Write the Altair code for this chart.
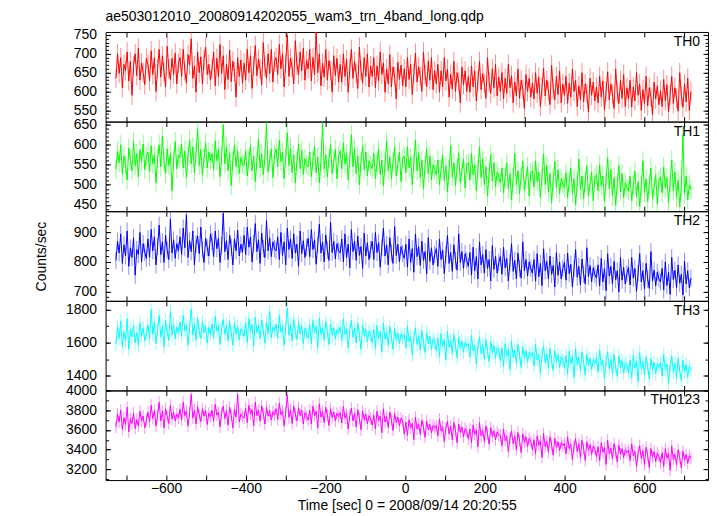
import altair as alt
import pandas as pd

title_text = "ae503012010_20080914202055_wam3_trn_4band_long.qdp"
x_title = "Time [sec] 0 = 2008/09/14 20:20:55"
y_title = "Counts/sec"
band_names = ["TH0", "TH1", "TH2", "TH3", "TH0123"]
band_colors = ["#ff0000", "#00ff00", "#0000ff", "#00ffff", "#ff00ff"]
band_errors = [26, 24, 29, 41, 61]
y_domains = [[520, 758], [434, 658], [668, 972], [1310, 1854], [3092, 4000]]
y_ticks = [[550, 600, 650, 700, 750], [450, 500, 550, 600, 650], [700, 800, 900],
           [1400, 1600, 1800], [3200, 3400, 3600, 3800, 4000]]
y_minor_steps = [10, 10, 20, 100, 100]
x_domain = [-752, 760]
x_ticks = [-700, -600, -500, -400, -300, -200, -100, 0, 100, 200, 300, 400, 500, 600, 700]
t_start = -726
t_step = 4.02

th0 = [635, 700, 648, 690, 610, 672, 655, 705, 628, 680, 590, 668, 700, 642, 715, 630, 676, 650, 618, 688,
       672, 628, 708, 645, 690, 600, 660, 712, 638, 695, 652, 612, 720, 660, 632, 688, 645, 702, 620, 675,
       690, 640, 712, 655, 622, 698, 670, 740, 635, 668, 598, 705, 650, 692, 620, 684, 718, 645, 672, 630,
       660, 705, 615, 688, 640, 725, 648, 695, 605, 672, 632, 710, 626, 680, 652, 585, 690, 640, 684, 622,
       675, 630, 712, 650, 695, 608, 668, 722, 642, 686, 660, 618, 730, 665, 635, 700, 648, 712, 625, 680,
       690, 645, 725, 660, 700, 612, 675, 750, 640, 688, 665, 620, 735, 670, 645, 705, 655, 715, 630, 682,
       660, 712, 628, 690, 645, 760, 650, 700, 615, 675, 638, 712, 630, 682, 655, 598, 695, 642, 688, 625,
       672, 625, 700, 640, 685, 598, 660, 712, 635, 680, 648, 608, 718, 655, 622, 690, 640, 700, 612, 668,
       640, 690, 610, 668, 628, 705, 645, 676, 598, 660, 620, 698, 612, 665, 640, 580, 678, 632, 670, 615,
       660, 612, 690, 632, 672, 592, 648, 702, 625, 665, 640, 600, 705, 645, 612, 680, 630, 690, 605, 655,
       620, 672, 598, 655, 612, 690, 628, 660, 585, 645, 606, 680, 600, 650, 625, 570, 665, 618, 655, 600,
       640, 598, 668, 612, 655, 575, 628, 680, 605, 648, 620, 582, 690, 625, 595, 660, 610, 672, 588, 638,
       600, 650, 580, 635, 595, 672, 610, 642, 570, 625, 588, 660, 582, 630, 606, 555, 645, 600, 635, 585,
       622, 580, 650, 595, 638, 560, 610, 662, 588, 630, 602, 565, 670, 607, 578, 640, 592, 655, 570, 620,
       590, 640, 568, 622, 585, 660, 600, 630, 560, 615, 578, 650, 572, 620, 596, 545, 635, 590, 625, 575,
       612, 570, 640, 585, 628, 552, 600, 652, 578, 620, 592, 555, 660, 597, 568, 630, 582, 645, 560, 610,
       580, 630, 558, 612, 575, 650, 590, 620, 550, 605, 568, 640, 562, 610, 586, 538, 625, 580, 615, 565,
       602, 560, 632, 575, 618, 545, 590, 640, 568, 610, 582, 548, 650, 588, 558, 620, 572, 635, 550, 600]

th1 = [540, 585, 555, 600, 528, 572, 550, 512, 592, 562, 535, 608, 548, 578, 520, 588, 558, 602, 538, 570,
       582, 532, 598, 552, 575, 505, 565, 600, 545, 622, 558, 528, 590, 548, 578, 485, 562, 608, 540, 575,
       568, 602, 542, 585, 518, 572, 612, 552, 595, 530, 578, 640, 548, 588, 525, 565, 605, 542, 582, 560,
       578, 538, 610, 560, 588, 520, 572, 650, 552, 595, 535, 580, 498, 562, 600, 545, 585, 528, 568, 552,
       548, 585, 522, 565, 598, 535, 572, 508, 560, 615, 542, 578, 525, 568, 655, 532, 560, 590, 518, 575,
       590, 545, 612, 558, 582, 515, 568, 630, 548, 592, 530, 575, 505, 560, 602, 540, 586, 526, 565, 550,
       545, 582, 520, 562, 596, 530, 570, 505, 558, 655, 540, 575, 520, 565, 600, 528, 558, 588, 515, 572,
       585, 540, 605, 552, 578, 512, 565, 625, 545, 590, 528, 572, 500, 558, 598, 538, 582, 522, 560, 548,
       540, 578, 515, 556, 590, 525, 562, 498, 552, 610, 535, 570, 515, 558, 595, 522, 552, 582, 508, 565,
       572, 530, 595, 542, 568, 500, 555, 612, 535, 580, 518, 562, 490, 548, 590, 528, 572, 512, 550, 538,
       525, 562, 500, 540, 575, 510, 548, 482, 538, 598, 520, 555, 498, 542, 580, 505, 535, 565, 492, 550,
       555, 512, 578, 525, 550, 485, 538, 595, 518, 565, 500, 545, 472, 530, 575, 510, 555, 495, 532, 520,
       505, 542, 480, 520, 555, 490, 528, 462, 518, 578, 500, 535, 478, 522, 560, 485, 515, 545, 472, 530,
       535, 495, 560, 508, 532, 468, 520, 578, 500, 548, 482, 528, 455, 512, 558, 492, 538, 478, 515, 502,
       492, 530, 468, 508, 542, 478, 515, 450, 505, 565, 488, 522, 465, 510, 548, 472, 502, 532, 460, 518,
       525, 485, 550, 498, 522, 458, 510, 568, 490, 538, 472, 518, 448, 503, 548, 482, 528, 468, 505, 492,
       485, 522, 460, 500, 535, 470, 508, 445, 498, 560, 480, 515, 458, 502, 542, 465, 495, 525, 452, 510,
       520, 480, 545, 492, 518, 455, 505, 562, 485, 532, 468, 512, 445, 498, 625, 478, 522, 462, 500, 488]

th2 = [805, 870, 830, 895, 795, 858, 820, 905, 785, 848, 815, 882, 755, 842, 825, 900, 800, 862, 832, 812,
       878, 815, 910, 838, 885, 790, 852, 925, 825, 868, 798, 890, 840, 808, 945, 830, 875, 812, 862, 838,
       885, 825, 915, 848, 960, 815, 872, 835, 905, 790, 862, 888, 828, 918, 842, 798, 880, 848, 820, 895,
       870, 818, 905, 845, 880, 798, 855, 965, 835, 872, 808, 890, 850, 790, 878, 838, 908, 820, 860, 832,
       890, 825, 918, 850, 885, 800, 862, 930, 835, 875, 795, 898, 845, 815, 940, 838, 882, 818, 868, 845,
       838, 885, 808, 900, 822, 868, 790, 915, 842, 878, 812, 895, 830, 860, 785, 905, 828, 872, 815, 850,
       880, 818, 910, 842, 875, 792, 858, 928, 830, 868, 800, 892, 840, 805, 935, 832, 870, 810, 862, 838,
       830, 878, 800, 895, 815, 860, 780, 910, 835, 870, 805, 888, 822, 852, 778, 898, 820, 865, 808, 842,
       870, 808, 900, 832, 865, 782, 848, 915, 820, 858, 790, 882, 830, 795, 920, 822, 860, 800, 852, 828,
       812, 860, 782, 878, 798, 845, 765, 895, 818, 852, 788, 870, 805, 835, 760, 882, 802, 848, 790, 825,
       845, 785, 878, 808, 840, 760, 825, 890, 795, 832, 768, 858, 805, 772, 895, 798, 835, 778, 828, 805,
       785, 832, 755, 850, 770, 818, 742, 868, 790, 825, 762, 842, 778, 808, 735, 855, 775, 820, 762, 798,
       818, 758, 850, 780, 812, 735, 798, 862, 768, 805, 742, 830, 778, 745, 868, 770, 808, 752, 800, 778,
       762, 808, 735, 828, 750, 795, 720, 845, 770, 802, 742, 820, 758, 788, 715, 832, 755, 800, 742, 778,
       798, 738, 830, 760, 792, 715, 778, 842, 748, 785, 722, 810, 758, 725, 848, 750, 788, 732, 780, 758,
       745, 790, 718, 812, 732, 778, 702, 828, 752, 785, 725, 802, 740, 770, 698, 815, 738, 782, 725, 760,
       782, 722, 815, 745, 778, 700, 762, 828, 732, 770, 708, 795, 742, 710, 835, 735, 772, 718, 765, 742,
       732, 778, 705, 800, 720, 765, 690, 815, 740, 772, 712, 790, 728, 758, 688, 802, 725, 770, 712, 745]

th3 = [1590, 1700, 1625, 1730, 1575, 1668, 1610, 1745, 1560, 1680, 1635, 1705, 1600, 1662, 1585, 1720, 1640, 1690, 1612, 1655,
       1705, 1625, 1800, 1650, 1725, 1595, 1680, 1765, 1635, 1700, 1575, 1735, 1665, 1615, 1790, 1648, 1712, 1625, 1695, 1660,
       1725, 1640, 1765, 1675, 1705, 1585, 1695, 1805, 1648, 1715, 1615, 1750, 1668, 1625, 1728, 1660, 1702, 1598, 1692, 1650,
       1715, 1630, 1760, 1670, 1700, 1590, 1688, 1740, 1650, 1705, 1612, 1730, 1662, 1585, 1722, 1648, 1700, 1618, 1685, 1665,
       1640, 1722, 1602, 1745, 1668, 1710, 1580, 1755, 1660, 1702, 1625, 1738, 1672, 1598, 1725, 1655, 1790, 1630, 1695, 1670,
       1712, 1628, 1765, 1665, 1698, 1585, 1690, 1810, 1645, 1708, 1610, 1742, 1662, 1620, 1725, 1652, 1705, 1595, 1688, 1655,
       1630, 1710, 1595, 1735, 1660, 1700, 1572, 1748, 1650, 1695, 1615, 1728, 1665, 1590, 1715, 1645, 1690, 1622, 1680, 1660,
       1695, 1612, 1745, 1650, 1685, 1570, 1675, 1735, 1632, 1690, 1598, 1720, 1648, 1560, 1708, 1638, 1682, 1605, 1672, 1650,
       1600, 1680, 1565, 1705, 1628, 1670, 1545, 1720, 1622, 1665, 1585, 1698, 1635, 1560, 1685, 1615, 1660, 1592, 1652, 1630,
       1650, 1568, 1700, 1605, 1640, 1525, 1630, 1690, 1588, 1645, 1555, 1675, 1600, 1540, 1662, 1592, 1638, 1560, 1625, 1605,
       1550, 1628, 1515, 1655, 1578, 1620, 1495, 1670, 1572, 1615, 1535, 1648, 1585, 1510, 1635, 1565, 1610, 1542, 1602, 1580,
       1595, 1512, 1645, 1550, 1585, 1470, 1575, 1635, 1532, 1590, 1500, 1620, 1545, 1485, 1608, 1538, 1582, 1505, 1570, 1550,
       1490, 1568, 1455, 1595, 1518, 1560, 1435, 1610, 1512, 1555, 1475, 1588, 1525, 1450, 1575, 1505, 1550, 1482, 1542, 1520,
       1540, 1458, 1590, 1495, 1530, 1415, 1520, 1580, 1478, 1535, 1445, 1565, 1490, 1430, 1552, 1482, 1528, 1450, 1515, 1495,
       1445, 1522, 1410, 1550, 1472, 1515, 1390, 1565, 1468, 1510, 1430, 1542, 1480, 1405, 1530, 1460, 1505, 1438, 1498, 1475,
       1505, 1422, 1555, 1460, 1495, 1380, 1485, 1545, 1442, 1500, 1410, 1530, 1455, 1395, 1518, 1448, 1492, 1415, 1480, 1460,
       1418, 1495, 1385, 1525, 1445, 1488, 1365, 1540, 1442, 1485, 1405, 1515, 1452, 1380, 1505, 1435, 1480, 1412, 1472, 1450,
       1480, 1398, 1530, 1435, 1470, 1355, 1460, 1520, 1418, 1475, 1385, 1505, 1430, 1370, 1492, 1422, 1468, 1390, 1455, 1435]

th0123 = [3630, 3760, 3680, 3800, 3605, 3725, 3655, 3830, 3580, 3715, 3665, 3770, 3615, 3705, 3640, 3790, 3690, 3740, 3620, 3700,
          3780, 3680, 3850, 3715, 3795, 3640, 3750, 3880, 3690, 3790, 3620, 3815, 3735, 3665, 3850, 3710, 3780, 3690, 3760, 3720,
          3810, 3700, 3880, 3745, 3790, 3640, 3775, 3960, 3720, 3800, 3660, 3835, 3750, 3685, 3815, 3740, 3795, 3655, 3770, 3730,
          3800, 3690, 3860, 3750, 3780, 3630, 3770, 3840, 3715, 3795, 3650, 3830, 3745, 3620, 3810, 3730, 3960, 3680, 3760, 3735,
          3720, 3820, 3675, 3850, 3760, 3805, 3640, 3880, 3745, 3800, 3690, 3845, 3765, 3660, 3830, 3740, 3795, 3700, 3785, 3750,
          3815, 3705, 3870, 3755, 3795, 3640, 3780, 3950, 3725, 3805, 3665, 3840, 3760, 3690, 3825, 3745, 3800, 3660, 3775, 3740,
          3700, 3800, 3660, 3840, 3745, 3790, 3620, 3865, 3730, 3785, 3675, 3830, 3750, 3645, 3815, 3725, 3780, 3690, 3770, 3735,
          3775, 3670, 3840, 3720, 3765, 3610, 3745, 3820, 3690, 3770, 3630, 3805, 3720, 3600, 3790, 3705, 3760, 3660, 3745, 3715,
          3650, 3750, 3610, 3790, 3695, 3740, 3570, 3815, 3680, 3735, 3625, 3780, 3700, 3595, 3765, 3675, 3730, 3640, 3720, 3690,
          3560, 3680, 3545, 3705, 3620, 3665, 3500, 3730, 3610, 3660, 3555, 3700, 3625, 3525, 3690, 3600, 3655, 3570, 3645, 3620,
          3645, 3540, 3710, 3590, 3635, 3480, 3615, 3690, 3560, 3640, 3500, 3675, 3590, 3470, 3660, 3575, 3630, 3530, 3615, 3585,
          3510, 3610, 3470, 3650, 3555, 3600, 3430, 3675, 3540, 3595, 3485, 3640, 3560, 3455, 3625, 3535, 3590, 3500, 3580, 3550,
          3545, 3440, 3610, 3490, 3535, 3380, 3515, 3590, 3460, 3540, 3400, 3575, 3490, 3370, 3560, 3475, 3530, 3430, 3515, 3485,
          3400, 3500, 3360, 3540, 3445, 3490, 3320, 3565, 3430, 3485, 3375, 3530, 3450, 3345, 3515, 3425, 3480, 3390, 3470, 3440,
          3465, 3360, 3530, 3410, 3455, 3300, 3435, 3510, 3380, 3460, 3320, 3495, 3410, 3290, 3480, 3395, 3450, 3350, 3435, 3405,
          3330, 3430, 3290, 3470, 3375, 3420, 3250, 3495, 3360, 3415, 3305, 3460, 3380, 3275, 3445, 3355, 3410, 3320, 3400, 3370,
          3395, 3290, 3460, 3340, 3385, 3230, 3365, 3440, 3310, 3390, 3250, 3425, 3340, 3220, 3410, 3325, 3380, 3280, 3365, 3335,
          3270, 3370, 3230, 3410, 3315, 3360, 3190, 3435, 3300, 3355, 3245, 3400, 3320, 3215, 3385, 3295, 3350, 3260, 3340, 3310]

series = [th0, th1, th2, th3, th0123]

FONT = "Liberation Sans"
W, H = 605, 90


def minor_values(i):
    lo, hi = y_domains[i]
    step = y_minor_steps[i]
    first = (lo // step + 1) * step
    return list(range(int(first), int(hi) + 1, step))


def panel(i):
    vals = series[i]
    err = band_errors[i]
    df = pd.DataFrame({
        "t": [t_start + k * t_step for k in range(len(vals))],
        "v": vals,
    })
    df["lo"] = df["v"] - err
    df["hi"] = df["v"] + err
    bottom = i == len(series) - 1
    color = band_colors[i]
    xs = alt.Scale(domain=x_domain, nice=False, zero=False)
    ys = alt.Scale(domain=y_domains[i], nice=False, zero=False)

    x_axis_kw = dict(values=x_ticks, offset=-5, tickSize=5, domain=False, grid=False,
                     labels=bottom, labelFontSize=14, labelPadding=1, labelFlush=False,
                     labelExpr="datum.value % 200 == 0 ? datum.label : ''",
                     titleFontSize=14, titleFontWeight="normal", titlePadding=4)
    if bottom:
        x_enc = alt.X("t:Q", scale=xs, title=x_title, axis=alt.Axis(**x_axis_kw))
    else:
        x_enc = alt.X("t:Q", scale=xs, title=None, axis=alt.Axis(**x_axis_kw))

    y_axis_kw = dict(values=y_ticks[i], offset=-5, tickSize=5, domain=False, grid=False,
                     labelFontSize=14, labelPadding=9, format="d", labelFlush=False,
                     titleFontSize=14, titleFontWeight="normal", titlePadding=25)
    if i == 2:
        y_enc = alt.Y("v:Q", scale=ys, title=y_title, axis=alt.Axis(**y_axis_kw))
    else:
        y_enc = alt.Y("v:Q", scale=ys, title=None, axis=alt.Axis(**y_axis_kw))

    rules = alt.Chart(df).mark_rule(color=color, opacity=0.45, strokeWidth=1, clip=True).encode(
        x=alt.X("t:Q", scale=xs, title=None,
                axis=alt.Axis(orient="top", values=x_ticks, offset=-5, tickSize=5,
                              domain=False, grid=False, labels=False)),
        y=alt.Y("lo:Q", scale=ys, title=None,
                axis=alt.Axis(orient="right", values=y_ticks[i], offset=-5, tickSize=5,
                              domain=False, grid=False, labels=False)),
        y2="hi:Q",
    )
    line = alt.Chart(df).mark_line(color=color, strokeWidth=1, clip=True).encode(x=x_enc, y=y_enc)

    minors = []
    for side in ["left", "right"]:
        minors.append(alt.Chart(df).mark_line(opacity=0, clip=True).encode(
            x=alt.X("t:Q", scale=xs, axis=None),
            y=alt.Y("v:Q", scale=ys, title=None,
                    axis=alt.Axis(orient=side, values=minor_values(i), offset=-3, tickSize=3,
                                  domain=False, grid=False, labels=False)),
        ))

    label = alt.Chart(pd.DataFrame({"label": [band_names[i]]})).mark_text(
        align="right", baseline="alphabetic", fontSize=14, font=FONT, color="black"
    ).encode(x=alt.value(W - 8), y=alt.value(14), text="label:N")

    layer = alt.layer(rules, line, *minors, label).resolve_axis(
        x="independent", y="independent").properties(width=W, height=H)
    if i == 0:
        layer = layer.properties(title=alt.TitleParams(
            title_text, anchor="start", frame="group", fontSize=14, font=FONT,
            fontWeight="normal", color="black", offset=4))
    return layer


chart = alt.vconcat(*[panel(i) for i in range(len(series))], spacing=0, bounds="flush").properties(
    padding={"left": 26, "top": 0, "right": 0, "bottom": 0}
).configure_view(stroke="black", strokeWidth=1).configure_axis(
    labelFont=FONT, titleFont=FONT, labelColor="black", titleColor="black",
    tickColor="black", tickWidth=1
)

chart.save("out.html", embed_options={"renderer": "svg", "actions": False})
